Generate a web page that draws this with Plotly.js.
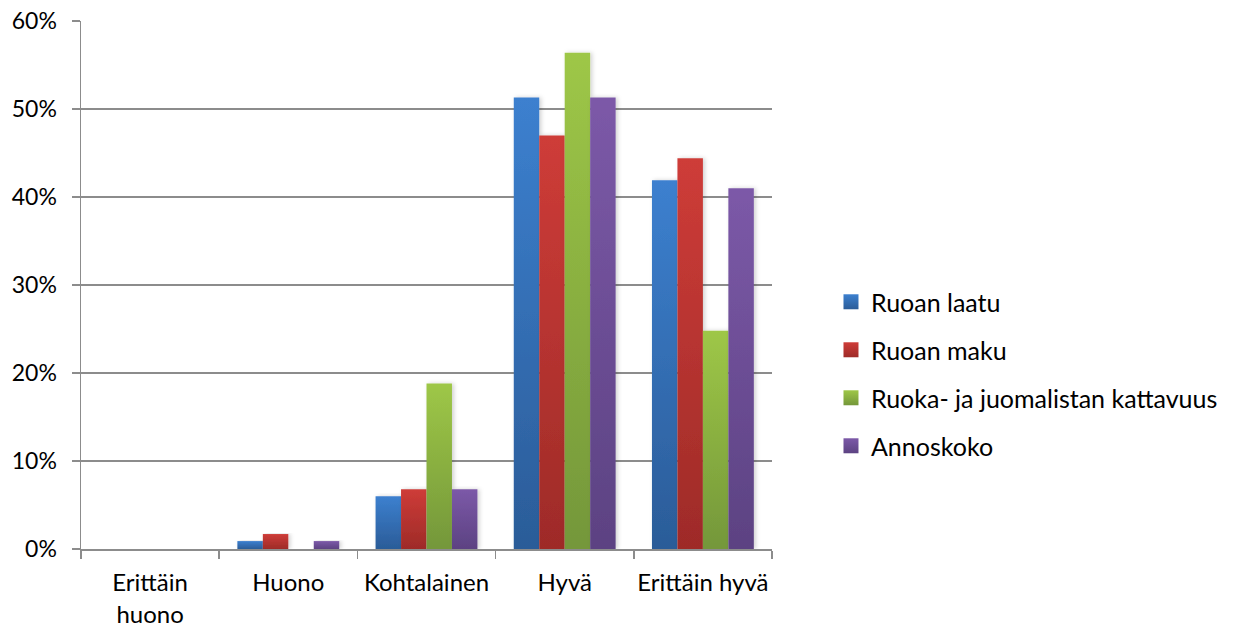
<!DOCTYPE html>
<html>
<head>
<meta charset="utf-8">
<script src="https://cdn.plot.ly/plotly-3.0.1.min.js"></script>
<style>
  html, body { margin: 0; padding: 0; background: #fff; }
  #chart { width: 1234px; height: 624px; }
</style>
</head>
<body>
<div id="chart"></div>
<script>
// Arviot ruoasta, osuus vastaajista (%)
const categories = ['Erittäin<br>huono', 'Huono', 'Kohtalainen', 'Hyvä', 'Erittäin hyvä'];
const seriesNames = ['Ruoan laatu', 'Ruoan maku', 'Ruoka- ja juomalistan kattavuus', 'Annoskoko'];
const ruoanLaatu = [0, 0.9, 6.0, 51.3, 41.9];
const ruoanMaku = [0, 1.7, 6.8, 47.0, 44.4];
const kattavuus = [0, 0, 18.8, 56.4, 24.8];
const annoskoko = [0, 0.9, 6.8, 51.3, 41.0];
const yTickVals = [0, 10, 20, 30, 40, 50, 60];
const yTickText = ['0%', '10%', '20%', '30%', '40%', '50%', '60%'];

// gradient colours per series: [top, bottom]
const gradients = [
  ['#3C80CF', '#2B5C98'],
  ['#CE3C38', '#9E2B28'],
  ['#9EC747', '#74973A'],
  ['#7C59A8', '#5C4282']
];

const FONT = 'Lato, "Open Sans", sans-serif';
const allSeries = [ruoanLaatu, ruoanMaku, kattavuus, annoskoko];

const traces = allSeries.map((vals, i) => ({
  type: 'bar',
  name: seriesNames[i],
  x: categories,
  y: vals,
  legendgroup: 'g' + i,
  marker: { color: gradients[i][0], line: { width: 0 } },
  hoverinfo: 'skip'
}));

const layout = {
  width: 1234,
  height: 624,
  margin: { l: 81, r: 461, t: 21, b: 75 },
  paper_bgcolor: '#ffffff',
  plot_bgcolor: '#ffffff',
  barmode: 'group',
  bargap: 0.263,
  bargroupgap: 0,
  font: { family: FONT, size: 24, color: '#000000' },
  showlegend: true,
  legend: {
    x: 1.0838, xanchor: 'left',
    y: 0.3314, yanchor: 'middle',
    font: { family: FONT, size: 25, color: '#000000' },
    tracegroupgap: 12.5,
    itemwidth: 30,
    bgcolor: 'rgba(0,0,0,0)'
  },
  xaxis: {
    type: 'category',
    showline: true,
    linecolor: '#8c8c8c',
    linewidth: 1.5,
    ticks: 'outside',
    tickson: 'boundaries',
    ticklen: 8,
    tickcolor: '#8c8c8c',
    tickwidth: 1.5,
    tickangle: 0,
    showgrid: false,
    zeroline: false,
    ticklabelstandoff: 12,
    tickfont: { family: FONT, size: 24, color: '#000000' },
    fixedrange: true
  },
  yaxis: {
    range: [0, 60],
    tickvals: yTickVals,
    ticktext: yTickText,
    showline: true,
    linecolor: '#8c8c8c',
    linewidth: 1.5,
    ticks: 'outside',
    ticklen: 8,
    tickcolor: '#8c8c8c',
    tickwidth: 1.5,
    showgrid: true,
    gridcolor: '#8c8c8c',
    gridwidth: 1.5,
    zeroline: false,
    ticklabelstandoff: 10,
    tickfont: { family: FONT, size: 23, color: '#000000' },
    fixedrange: true
  }
};

Plotly.newPlot('chart', traces, layout, { staticPlot: true, displayModeBar: false }).then(gd => {
  // vertical gradient fill on bars and legend swatches
  const svg = gd.querySelector('svg.main-svg');
  const ns = 'http://www.w3.org/2000/svg';
  let defs = svg.querySelector('defs');
  if (!defs) { defs = document.createElementNS(ns, 'defs'); svg.insertBefore(defs, svg.firstChild); }
  gradients.forEach((g, i) => {
    const lg = document.createElementNS(ns, 'linearGradient');
    lg.setAttribute('id', 'barGrad' + i);
    lg.setAttribute('x1', '0'); lg.setAttribute('y1', '0');
    lg.setAttribute('x2', '0'); lg.setAttribute('y2', '1');
    [[0, g[0]], [1, g[1]]].forEach(([off, col]) => {
      const st = document.createElementNS(ns, 'stop');
      st.setAttribute('offset', off);
      st.setAttribute('stop-color', col);
      lg.appendChild(st);
    });
    defs.appendChild(lg);
  });
  const flt = document.createElementNS(ns, 'filter');
  flt.setAttribute('id', 'barShadow');
  flt.setAttribute('x', '-20%'); flt.setAttribute('y', '-5%');
  flt.setAttribute('width', '150%'); flt.setAttribute('height', '110%');
  const ds = document.createElementNS(ns, 'feDropShadow');
  ds.setAttribute('dx', '2'); ds.setAttribute('dy', '0');
  ds.setAttribute('stdDeviation', '2');
  ds.setAttribute('flood-color', '#000'); ds.setAttribute('flood-opacity', '0.18');
  flt.appendChild(ds);
  defs.appendChild(flt);

  gd.querySelectorAll('.barlayer .trace').forEach((tr, i) => {
    tr.querySelectorAll('path').forEach(p => {
      p.style.fill = 'url(#barGrad' + i + ')';
      p.setAttribute('filter', 'url(#barShadow)');
    });
  });
  gd.querySelectorAll('.legend .traces').forEach((tr, i) => {
    tr.querySelectorAll('.legendpoints path').forEach(p => {
      p.style.fill = 'url(#barGrad' + i + ')';
      p.setAttribute('d', 'M7.5,7.5H-7.5V-7.5H7.5Z');
    });
  });
});
</script>
</body>
</html>
